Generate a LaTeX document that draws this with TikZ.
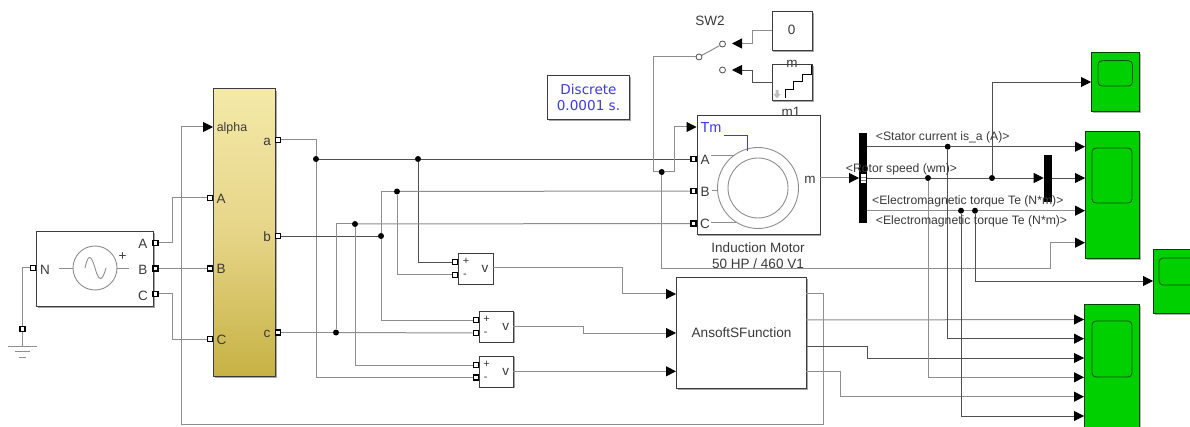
\documentclass[tikz,border=0pt]{standalone}
\usepackage{fontspec}
\setmainfont{Liberation Sans}
\newfontfamily\verd{DejaVu Sans}
\usetikzlibrary{arrows.meta,shadows,calc}
\definecolor{wd}{HTML}{505050}
\definecolor{wg}{HTML}{8E8E8E}
\definecolor{txt}{HTML}{3A3A3A}
\definecolor{sgreen}{HTML}{00CF00}
\definecolor{edge}{HTML}{3C3C3C}
\definecolor{yellowtop}{HTML}{F4E9A8}
\definecolor{yellowmid}{HTML}{E6D588}
\definecolor{yellowbot}{HTML}{C6B244}
\definecolor{bluet}{HTML}{3A3AE8}
\tikzset{
  wire/.style={draw=wd,line width=0.8pt},
  wireg/.style={draw=wg,line width=1pt},
  arr/.style={-{Triangle[length=10pt,width=10pt,color=black,fill=black]}},
  blk/.style={draw=edge,line width=1pt,fill=white,inner sep=0pt,minimum width=#1,anchor=north west,
    copy shadow={draw=none,fill=black!35,shadow xshift=1pt,shadow yshift=-1.2pt}},
  port/.style={draw=black,line width=1.6pt,fill=white,minimum size=5pt,inner sep=0pt},
  jn/.style={circle,fill=black,minimum size=6pt,inner sep=0pt},
  bar/.style={fill=black,inner sep=0pt},
  lab/.style={font=\fontsize{12.2pt}{14pt}\selectfont,text=txt,inner sep=0pt},
  plab/.style={font=\fontsize{13.5pt}{14pt}\selectfont,text=txt,inner sep=0pt},
  sym/.style={draw=wg,line width=0.9pt},
  scope/.style={draw=black!70!sgreen,line width=1pt,fill=sgreen,inner sep=0pt,anchor=north west,
    copy shadow={draw=none,fill=black!30,shadow xshift=1pt,shadow yshift=-1.2pt}},
  scin/.style={draw=black!60!sgreen,line width=0.9pt,rounded corners=4pt,fill=sgreen},
  contact/.style={circle,draw=wd,line width=.8pt,fill=white,minimum size=6pt,inner sep=0pt},
}
\begin{document}
\begin{tikzpicture}[x=1pt,y=-1pt]
\useasboundingbox[fill=white] (0,0) rectangle (1190,427);

% ---------- blocks
\node[blk=117pt,minimum height=75pt] (src) at (36,231) {};
\node[blk=62pt,minimum height=287pt] (bridge) at (213,89) {};
\shade[top color=yellowtop,bottom color=yellowbot,middle color=yellowmid,draw=edge,line width=1pt] (213,89) rectangle (275,376);
\node[blk=123pt,minimum height=119pt] (motor) at (696.5,115.5) {};
\node[blk=130pt,minimum height=111pt,font=\fontsize{13.6pt}{15pt}\selectfont,text=txt] (ansoft) at (676,277) {AnsoftSFunction};
\node[blk=34.5pt,minimum height=31pt] (v1) at (458,252.7) {};
\node[blk=34.5pt,minimum height=31pt] (v2) at (478.7,310.7) {};
\node[blk=34.5pt,minimum height=31pt] (v3) at (478.7,355.5) {};
\node[blk=82pt,minimum height=44pt] (disc) at (547,75) {};
\node[blk=40.5pt,minimum height=39pt] (c0) at (771.5,11) {};
\node[blk=40.5pt,minimum height=36pt] (stair) at (771.5,64) {};
\node[scope,minimum width=48pt,minimum height=59pt] (sc1) at (1091,52) {};
\node[scope,minimum width=54pt,minimum height=127pt] (sc2) at (1085,131) {};
\node[scope,minimum width=50pt,minimum height=64pt] (sc3) at (1153,249) {};
\node[scope,minimum width=55pt,minimum height=130pt] (sc4) at (1084,304) {};
\draw[scin] (1098,60.7) rectangle (1132.5,86);
\draw[scin] (1092,148) rectangle (1132,203);
\draw[scin] (1159,258) rectangle (1200,285);
\draw[scin] (1092,321) rectangle (1132,377);
\node[bar,minimum width=8pt,minimum height=90pt] (demux) at (863,178) {};
\node[bar,minimum width=8pt,minimum height=47pt] (mux) at (1047.7,178.3) {};
\fill[white] (860.5,174) rectangle (866,183);
\draw[black!50,line width=.6pt] (860.5,177) -- (866,177) (860.5,180) -- (866,180);

% ---------- ports
\node[port] (sN) at (33,268) {};
\node[port] (gnd) at (22.5,329) {};
\node[port] (sA) at (155.5,243) {};
\node[port] (sB) at (155.5,268.5) {};
\node[port] (sC) at (155.5,294) {};
\node[port] (yA) at (210,198) {};
\node[port] (yB) at (210,268.5) {};
\node[port] (yC) at (210,339) {};
\node[port] (ya) at (278,140) {};
\node[port] (yb) at (278,236) {};
\node[port] (yc) at (278,332.5) {};
\node[port] (mA) at (693.5,159) {};
\node[port] (mB) at (693.5,191) {};
\node[port] (mC) at (693.5,223.5) {};
\node[port] (v1p) at (455,262) {};
\node[port] (v1m) at (455,275) {};
\node[port] (v2p) at (476,320) {};
\node[port] (v2m) at (476,333) {};
\node[port] (v3p) at (476,365) {};
\node[port] (v3m) at (476,377.5) {};

% ---------- named points
\coordinate (yalpha) at (213,127);
\coordinate (mTm) at (696.5,127);
\coordinate (a1) at (676,294);
\coordinate (a2) at (676,333);
\coordinate (a3) at (676,371.3);
\coordinate (o1) at (806,294);
\coordinate (o2) at (806,320);
\coordinate (o3) at (806,346);
\coordinate (o4) at (806,371);
\coordinate (v1o) at (492.5,268);
\coordinate (v2o) at (513,326.7);
\coordinate (v3o) at (513,371.3);
\coordinate (mm) at (819.5,178);
\coordinate (dmin) at (859,178);
\coordinate (d1) at (867,146.7);
\coordinate (d2) at (867,178);
\coordinate (d3) at (867,210.7);
\coordinate (mxin) at (1043.7,178);
\coordinate (mxo) at (1051.7,178);
\coordinate (s2a) at (1085,146.7);
\coordinate (s2b) at (1085,178);
\coordinate (s2c) at (1085,210.7);
\coordinate (s2d) at (1085,242.7);
\coordinate (s1) at (1091,82);
\coordinate (s3) at (1153,281);
\coordinate (s4a) at (1084,319.5);
\coordinate (s4b) at (1084,338.7);
\coordinate (s4c) at (1084,358);
\coordinate (s4d) at (1084,377.3);
\coordinate (s4e) at (1084,396.7);
\coordinate (s4f) at (1084,416);
\coordinate (sa1) at (732,43.5);
\coordinate (sa2) at (732,70);
\coordinate (c0o) at (771.5,31);
\coordinate (sto) at (771.5,82);
\coordinate (ret) at (181,424);
\coordinate (t2) at (1050,268.5);

% ---------- junctions
\node[jn] (ja) at (316,159) {};
\node[jn] (jav) at (418,159) {};
\node[jn] (jb) at (381,236) {};
\node[jn] (jbv) at (397,191.5) {};
\node[jn] (jc) at (336,332.5) {};
\node[jn] (jcv) at (355,224) {};
\node[jn] (jt) at (661.7,172) {};
\node[jn] (jw1) at (928,178) {};
\node[jn] (jw2) at (992,178) {};
\node[jn] (ji) at (947.7,146.7) {};
\node[jn] (jt1) at (961,210.7) {};
\node[jn] (jt2) at (975,210.7) {};
\node[contact] (swp) at (699,57) {};
\node[contact] (sw1) at (722.5,44) {};
\node[contact] (sw2) at (722.5,70) {};

% ---------- wires
\draw[wireg] (sN) -| (gnd);
\draw[wireg] (gnd) -- ++(0,17) coordinate (g0);
\draw[wireg] ($(g0)+(-14.5,0)$) -- ++(29,0);
\draw[wireg] ($(g0)+(-7.5,5)$) -- ++(15,0);
\draw[wireg] ($(g0)+(-3.5,11)$) -- ++(7,0);
\draw[wireg] (sA) -- ++(17,0) |- (yA);
\draw[wireg] (sB) -- (yB);
\draw[wireg] (sC) -- ++(17,0) |- (yC);
\draw[wireg] (ya) -| (ja);
\draw[wire] (ja) -- (jav);
\draw[wire] (jav) -- (mA);
\draw[wireg] (ja) |- (v3m);
\draw[wire] (jav) |- (v1p);
\draw[wire] (yb) -- (jb);
\draw[wireg] (jb) |- (jbv);
\draw[wireg] (jb) |- (v2p);
\draw[wireg] (jbv) -- (mB);
\draw[wireg] (jbv) |- (v1m);
\draw[wireg] (yc) -- (jc);
\draw[wireg] (jc) -- (v2m);
\draw[wireg] (jc) |- (jcv);
\draw[wireg] (jcv) -- (mC);
\draw[wireg] (jcv) |- (v3p);
\draw[wireg,arr] (v1o) -- ++(129.5,0) |- (a1);
\draw[wireg,arr] (v2o) -- ++(70.7,0) |- (a2);
\draw[wireg,arr] (v3o) -- (a3);
\draw[wireg,arr] (o1) -- ++(17,0) |- (ret) |- (yalpha);
\draw[wireg,arr] (jt) -- ++(12.3,0) |- (mTm);
\draw[wireg] (jt) -- ++(-8.7,0) |- (swp);
\draw[wireg,arr] (jt) |- (t2) |- (s2d);
\draw[wireg,arr] (mm) -- (dmin);
\draw[wire] (d1) -- (ji);
\draw[wire,arr] (ji) -- (s2a);
\draw[wire] (d2) -- (jw1);
\draw[wire] (jw1) -- (jw2);
\draw[wire,arr] (jw2) -- (mxin);
\draw[wire,arr] (mxo) -- (s2b);
\draw[wireg] (d3) -- (jt1);
\draw[wireg] (jt1) -- (jt2);
\draw[wireg,arr] (jt2) -- (s2c);
\draw[wire,arr] (jw2) |- (s1);
\draw[wire,arr] (jt2) |- (s3);
\draw[wireg,arr] (o2) -- (s4a);
\draw[wire,arr] (ji) |- (s4b);
\draw[wire,arr] (o3) -- ++(61,0) |- (s4c);
\draw[wireg,arr] (jw1) |- (s4d);
\draw[wireg,arr] (o4) -- ++(34,0) |- (s4e);
\draw[wire,arr] (jt1) |- (s4f);

% ---------- switch
\draw[wireg,arr] (c0o) -- ++(-19.5,0) |- (sa1);
\draw[wire,arr] (sto) -- ++(-19.5,0) |- (sa2);
\draw[wireg] (swp) -- (sw1);

% ---------- staircase
\draw[black,line width=.7pt] (785,98) -- (785,89.3) -- (793.3,89.3) -- (793.3,81.7) -- (802.3,81.7) -- (802.3,74) -- (811.7,74) -- (811.7,65);
\fill[black!25] (775.5,90) rectangle (778.5,94) (773.5,94) -- (780.5,94) -- (777,98.5) -- cycle;

% ---------- source symbol
\draw[sym] (59,268) -- (73,268) (117,268) -- (129,268);
\draw[sym] (95,268) circle (22);
\draw[sym] (85,268) .. controls (88,254) and (91,254) .. (95,268) .. controls (99,282) and (102,282) .. (106,268);
% ---------- motor symbol
\draw[sym] (758,188) circle (40.5);
\draw[sym] (758,188) circle (30);
\draw[sym] (711,155.7) -- (734,155.7);
\draw[sym] (711.5,190) -- (718,190);
\draw[sym] (711,222) -- (737,222);
\draw[bluet,line width=1pt] (724,135.5) -| (747,151);

% ---------- texts
\node[plab] at (45,269.5) {N};
\node[plab] at (143,244) {A};
\node[plab] at (143,269.5) {B};
\node[plab] at (143,295.5) {C};
\node[plab] at (122.5,257) {+};
\node[plab,font=\fontsize{12.4pt}{14pt}\selectfont] at (232,128.5) {alpha};
\node[plab] at (221,198.5) {A};
\node[plab] at (221,269) {B};
\node[plab] at (221.5,340) {C};
\node[plab] at (267,142) {a};
\node[plab] at (267,236.5) {b};
\node[plab] at (267,334) {c};
\node[plab,font=\fontsize{14.5pt}{14pt}\selectfont,text=bluet] at (711,127.5) {Tm};
\node[plab] at (705,160) {A};
\node[plab] at (705,192) {B};
\node[plab] at (705,224) {C};
\node[plab] at (810,179.5) {m};
\node[plab] at (710,21) {SW2};
\node[plab] at (791.5,30) {0};
\node[plab] at (792,63.5) {m};
\node[plab] at (791,112) {m1};
\node[plab] at (758,247.5) {Induction Motor};
\node[plab] at (758,264) {50 HP / 460 V1};
\node[font=\verd\fontsize{13.6pt}{16.5pt}\selectfont,text=bluet,align=center,inner sep=0pt] at (disc) {Discrete\\0.0001 s.};
\foreach \b in {v1,v2,v3}{
  \node[plab,font=\fontsize{11pt}{12pt}\selectfont] at ($(\b.north west)+(8,9)$) {+};
  \node[plab,font=\fontsize{11pt}{12pt}\selectfont] at ($(\b.north west)+(7,23)$) {-};
  \node[plab] at ($(\b.north west)+(27,16.5)$) {v};
}
\node[lab,anchor=west] at (875.7,137) {<Stator current is\_a (A)>};
\node[lab,anchor=west] at (845.7,169) {<Rotor speed (wm)>};
\node[lab,anchor=west] at (872,201) {<Electromagnetic torque Te (N*m)>};
\node[lab,anchor=west] at (875.7,221.7) {<Electromagnetic torque Te (N*m)>};
\end{tikzpicture}
\end{document}
